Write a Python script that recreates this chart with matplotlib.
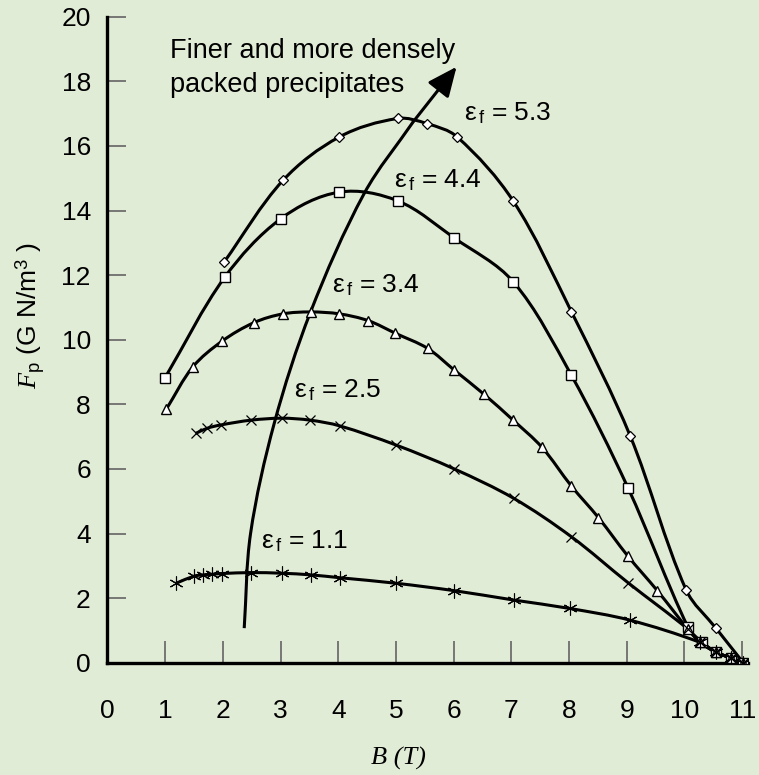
import numpy as np
import matplotlib.pyplot as plt
from matplotlib.path import Path
from matplotlib.patches import PathPatch

plt.rcParams["font.family"] = ["Liberation Sans", "DejaVu Sans"]
plt.rcParams["mathtext.fontset"] = "custom"
plt.rcParams["mathtext.rm"] = "Liberation Sans"
plt.rcParams["mathtext.it"] = "Liberation Serif:italic"

# data
B_53 = [2.02, 3.04, 4.02, 5.03, 5.54, 6.06, 7.03, 8.04, 9.06, 10.03, 10.55, 11.02]
F_53 = [12.4, 14.93, 16.28, 16.85, 16.69, 16.28, 14.3, 10.87, 7.02, 2.25, 1.06, 0.0]

B_44 = [1.0, 2.03, 3.0, 4.02, 5.03, 6.01, 7.03, 8.04, 9.02, 10.06, 10.3, 10.55, 10.8, 11.02]
F_44 = [8.83, 11.93, 13.74, 14.57, 14.3, 13.15, 11.8, 8.9, 5.42, 1.1, 0.64, 0.32, 0.15, 0.0]

B_34 = [1.02, 1.48, 1.99, 2.54, 3.04, 3.52, 4.02, 4.52, 4.99, 5.55, 6.01, 6.52, 7.03, 7.53,
        8.04, 8.51, 9.02, 9.53, 10.06, 10.27, 10.55, 10.8, 11.02]
F_34 = [7.85, 9.16, 9.96, 10.53, 10.8, 10.86, 10.8, 10.59, 10.2, 9.73, 9.06, 8.32, 7.51, 6.67,
        5.47, 4.49, 3.3, 2.23, 1.04, 0.63, 0.32, 0.15, 0.0]

B_25 = [1.53, 1.73, 1.96, 2.49, 3.02, 3.51, 4.03, 5.0, 6.01, 7.04, 8.04, 9.02, 10.06, 10.27,
        10.55, 10.8, 11.02]
F_25 = [7.1, 7.26, 7.36, 7.51, 7.57, 7.51, 7.33, 6.74, 6.0, 5.09, 3.9, 2.48, 1.04, 0.63,
        0.32, 0.15, 0.0]

B_11 = [1.19, 1.5, 1.66, 1.82, 1.98, 2.49, 3.02, 3.52, 4.03, 5.0, 6.01, 7.04, 8.01, 9.05,
        10.27, 10.55, 10.8, 11.02]
F_11 = [2.46, 2.68, 2.72, 2.74, 2.76, 2.79, 2.77, 2.72, 2.63, 2.46, 2.23, 1.94, 1.68, 1.32,
        0.63, 0.32, 0.15, 0.0]

arrow_B = [2.37, 2.48, 2.89, 3.52, 4.45, 5.3]
arrow_F = [1.07, 4.0, 7.41, 10.86, 14.53, 16.75]
arrow_tip = (6.05, 18.45)

labels = ["5.3", "4.4", "3.4", "2.5", "1.1"]
label_B = [6.18, 4.97, 3.9, 3.23, 2.66]
label_F = [17.0, 14.94, 11.7, 8.44, 3.75]

xticks = list(range(0, 12))
yticks = list(range(0, 21, 2))


def smooth_path(xs, ys, k=0.56):
    # smoothed line through the points (bezier segments drawn by matplotlib)
    P = np.column_stack([xs, np.asarray(ys) * k])
    T = np.zeros_like(P)
    T[0] = P[1] - P[0]
    T[-1] = P[-1] - P[-2]
    T[1:-1] = P[2:] - P[:-2]
    T /= np.linalg.norm(T, axis=1)[:, None]
    verts = [P[0]]
    codes = [Path.MOVETO]
    for i in range(len(P) - 1):
        d = np.linalg.norm(P[i + 1] - P[i]) / 3
        verts += [P[i] + T[i] * d, P[i + 1] - T[i + 1] * d, P[i + 1]]
        codes += [Path.CURVE4] * 3
    verts = np.array(verts)
    verts[:, 1] /= k
    return Path(verts, codes)


bg = "#e1ecd6"
fig = plt.figure(figsize=(7.59, 7.75), dpi=100, facecolor=bg)
ax = fig.add_axes([0.1416, 0.1449, 0.8438, 0.8335])
ax.set_facecolor(bg)

series = [
    (B_53, F_53, dict(marker="D", ms=5, mfc="white", mec="black", mew=0.9)),
    (B_44, F_44, dict(marker="s", ms=7.5, mfc="white", mec="black", mew=1.0)),
    (B_34, F_34, dict(marker="^", ms=7.5, mfc="white", mec="black", mew=1.0)),
    (B_25, F_25, dict(marker="x", ms=7, mec="black", mew=0.9)),
    (B_11, F_11, dict(marker=(6, 2, 0), ms=10, mec="black", mew=0.8)),
]
for xs, ys, mk in series:
    ax.add_patch(PathPatch(smooth_path(xs, ys), fill=False, lw=2.2, ec="black", zorder=2))
    ax.plot(xs, ys, ls="none", zorder=3, **mk)

ax.add_patch(PathPatch(smooth_path(arrow_B, arrow_F), fill=False, lw=2.2, ec="black", zorder=2))
ax.annotate("", xy=arrow_tip, xytext=(arrow_B[-1], arrow_F[-1]),
            arrowprops=dict(arrowstyle="-|>,head_length=0.9,head_width=0.4",
                            lw=2.2, color="black", shrinkA=0, shrinkB=0,
                            mutation_scale=20))

for lab, bx, fy in zip(labels, label_B, label_F):
    ax.text(bx, fy, r"$\mathrm{\varepsilon}_{\,\mathrm{f}}$ = " + lab, fontsize=19,
            ha="left", va="center")

ax.text(1.08, 18.4, "Finer and more densely\npacked precipitates", fontsize=19.5,
        ha="left", va="center", linespacing=1.4)

ax.set_xlim(0, 11.1)
ax.set_ylim(0, 20)
ax.set_xticks(xticks)
ax.set_yticks(yticks)
for s in ["top", "right"]:
    ax.spines[s].set_visible(False)
for s in ["left", "bottom"]:
    ax.spines[s].set_linewidth(2.4)
ax.tick_params(axis="y", direction="in", length=14, width=1.3, color="#6e6e6e",
               pad=12, labelsize=19)
ax.tick_params(axis="x", direction="in", length=16, width=1.3, color="#6e6e6e",
               pad=26, labelsize=19)

fig.text(30 / 759, 1 - 315 / 775, r"$F_{\mathrm{p}}$ (G N/m$^{3}$ )", rotation=90,
         ha="center", va="center", fontsize=19)
fig.text(398 / 759, 1 - 758 / 775, "B (T)", fontfamily="Liberation Serif",
         style="italic", ha="center", va="center", fontsize=19)

fig.savefig("out.png", dpi=100, facecolor=bg)
